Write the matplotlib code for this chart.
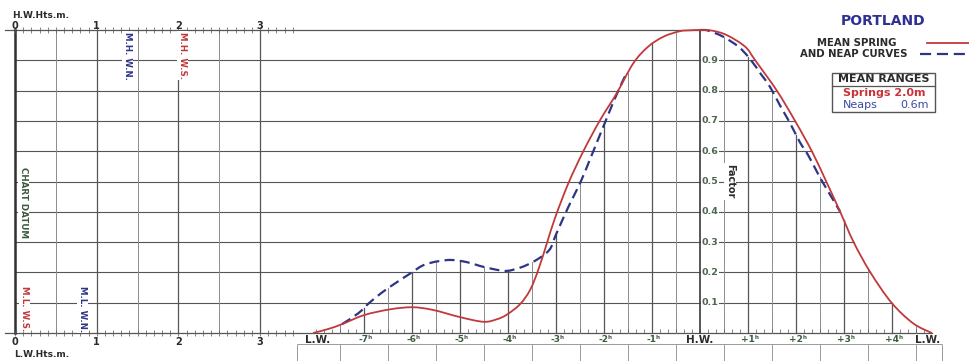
"""
Portland tidal curve (mean spring and neap), Admiralty style diagram.
"""

import numpy as np
import matplotlib
matplotlib.use('Agg')
import matplotlib.pyplot as plt
from matplotlib.patches import Rectangle, PathPatch
from matplotlib.path import Path

# ---------------------------------------------------------------------------
# Data: hours from H.W. vs height factor
# ---------------------------------------------------------------------------

spring_h = [-8.06, -7.75, -7.46, -7.0, -6.46, -5.99, -5.56, -4.99, -4.51, -4.24,
            -4.03, -3.75, -3.54, -3.37, -3.19, -3.02, -2.74, -2.43, -2.08, -1.74,
            -1.39, -1.08, -0.76, -0.42, -0.2, 0.0, 0.25, 0.56, 0.94, 1.15, 1.6,
            1.98, 2.33, 2.63, 2.92, 3.2, 3.55, 3.99, 4.44, 4.83]
spring_f = [0.0, 0.013, 0.029, 0.059, 0.078, 0.085, 0.076, 0.052, 0.037, 0.045,
            0.06, 0.095, 0.142, 0.208, 0.296, 0.38, 0.495, 0.6, 0.703, 0.79,
            0.89, 0.945, 0.978, 0.996, 0.999, 1.0, 0.998, 0.983, 0.945, 0.9, 0.8,
            0.7, 0.6, 0.5, 0.4, 0.3, 0.2, 0.1, 0.032, 0.0]

# neap curve where it separates from the spring curve
neap_rise_h = [-7.46, -7.12, -6.9, -6.63, -6.35, -6.06, -5.76, -5.45, -5.17, -4.86,
               -4.6, -4.31, -4.03, -3.74, -3.44, -3.14, -3.0, -2.74, -2.5, -2.3,
               -2.12, -1.94, -1.77, -1.6, -1.53]
neap_rise_f = [0.029, 0.065, 0.098, 0.133, 0.164, 0.194, 0.224, 0.237, 0.241, 0.234,
               0.222, 0.211, 0.205, 0.216, 0.238, 0.274, 0.325, 0.417, 0.494, 0.57,
               0.64, 0.71, 0.775, 0.835, 0.857]
neap_fall_h = [0.0, 0.17, 0.48, 0.8, 1.04, 1.28, 1.46, 1.67, 1.875, 2.08, 2.26,
               2.47, 2.64, 2.81, 2.92]
neap_fall_f = [1.0, 0.998, 0.978, 0.945, 0.905, 0.852, 0.812, 0.75, 0.693, 0.63,
               0.585, 0.522, 0.475, 0.43, 0.4]

time_ticks = [-7, -6, -5, -4, -3, -2, -1, 1, 2, 3, 4]
time_labels = ['-7ʰ', '-6ʰ', '-5ʰ', '-4ʰ', '-3ʰ', '-2ʰ', '-1ʰ',
               '+1ʰ', '+2ʰ', '+3ʰ', '+4ʰ']
lw_times = [-8.06, 4.83]
factor_ticks = [0.1, 0.2, 0.3, 0.4, 0.5, 0.6, 0.7, 0.8, 0.9]
height_ticks = [0, 1, 2, 3]

datum_names = ['M.H. W.S.', 'M.H. W.N.', 'M.L. W.N.', 'M.L. W.S.']
datum_heights = [2.05, 1.38, 0.83, 0.12]
datum_is_spring = [True, False, False, True]

port_name = 'PORTLAND'
spring_range = 2.0
neap_range = 0.6

# ---------------------------------------------------------------------------
# Layout (pixels of the 969x361 sheet)
# ---------------------------------------------------------------------------

W, H = 969, 361
HW_X, PX_H = 700, 48.0       # H.W. position, pixels per hour
M0_X, PX_M = 15, 81.7        # 0 m position, pixels per metre
BASE_Y, PX_F = 333, 303.0    # factor 0 position, pixels per unit factor

RED = '#c0393c'
BLUE = '#2d3585'
GRID = '#555555'
GRID_LIGHT = '#8c8c8c'
GREEN = '#3d5a40'
DARK = '#2b2b2b'


def px(x, y):
    """pixel position -> axes fraction"""
    return x / W, 1 - y / H


def smooth_path(xs, ys):
    """Bezier path through the read points (Catmull-Rom tangents)."""
    p = np.column_stack([xs, ys])
    n = len(p)
    verts = [p[0]]
    codes = [Path.MOVETO]
    for i in range(n - 1):
        p0 = p[max(i - 1, 0)]
        p3 = p[min(i + 2, n - 1)]
        c1 = p[i] + (p[i + 1] - p0) / 6
        c2 = p[i + 1] - (p3 - p[i]) / 6
        verts += [c1, c2, p[i + 1]]
        codes += [Path.CURVE4] * 3
    return Path(verts, codes)


fig = plt.figure(figsize=(W / 100, H / 100), dpi=100)
ax = fig.add_axes([0, 0, 1, 1])
ax.set_xlim(-HW_X / PX_H, (W - HW_X) / PX_H)
ax.set_ylim((BASE_Y - H) / PX_F, BASE_Y / PX_F)
ax.axis('off')

axm = ax.twiny()
axm.set_xlim(-M0_X / PX_M, (W - M0_X) / PX_M)
axm.axis('off')

h_of_m = lambda m: (M0_X + m * PX_M - HW_X) / PX_H

sh = np.array(spring_h)
sf = np.array(spring_f)
fall = sh >= 0


def curve_top(h):
    if neap_rise_h[0] <= h <= neap_rise_h[-1]:
        return np.interp(h, neap_rise_h, neap_rise_f)
    if neap_fall_h[0] <= h <= neap_fall_h[-1]:
        return np.interp(h, neap_fall_h, neap_fall_f)
    return np.interp(h, sh, sf)


# horizontal factor lines
for f in factor_ticks:
    ax.plot([h_of_m(0), 0], [f, f], color=GRID, lw=0.8, zorder=1)
    h_end = np.interp(f, sf[fall][::-1], sh[fall][::-1])
    ax.plot([0, h_end], [f, f], color=GRID, lw=0.8, zorder=1)
ax.plot([h_of_m(-0.12), 0], [1, 1], color=GRID, lw=0.9, zorder=1)
ax.plot([h_of_m(-0.12), lw_times[1]], [0, 0], color=GRID, lw=0.9, zorder=1)

# vertical half-hour lines up to the curve
for h in np.arange(-7.5, 4.6, 0.5):
    if h == 0:
        continue
    whole = float(h).is_integer()
    ax.plot([h, h], [0, curve_top(h)], color=GRID if whole else GRID_LIGHT,
            lw=0.9 if whole else 0.7, zorder=1)
ax.plot([0, 0], [0, 1], color='#3a3a3a', lw=1.2, zorder=2)

# small ticks on the time base
ax.vlines(np.arange(-8, 4.8, 1 / 6), 0, 0.012, color=GRID, lw=0.5, zorder=1)

# table strip below the time base
ax.hlines(-0.036, -8.4, 5.04, color='#9a9a9a', lw=0.7)
box_edges = [-8.4] + list(np.arange(-7.5, 0, 1.0)) + list(np.arange(0.5, 5, 1.0)) + [5.04]
ax.vlines(box_edges, -0.1, -0.036, color='#9a9a9a', lw=0.7)

# height grid (metres)
for m in np.arange(0, 3.01, 0.5):
    whole = float(m).is_integer()
    axm.plot([m, m], [0, 1], color=GRID if whole else GRID_LIGHT,
             lw=0.9 if whole else 0.7, zorder=1)
axm.plot([0, 0], [0, 1], color='#333333', lw=1.8, zorder=2)
ruler = np.arange(0, 3.45, 0.1)
axm.vlines(ruler, 1 - 0.009, 1 + 0.009, color=GRID, lw=0.5)
axm.vlines(ruler, -0.009, 0.009, color=GRID, lw=0.5)

# curves
for xs, ys in [(neap_rise_h, neap_rise_f), (neap_fall_h, neap_fall_f)]:
    ax.add_patch(PathPatch(smooth_path(xs, ys), fill=False, edgecolor=BLUE,
                           lw=1.6, linestyle=(0, (4.5, 2.4)), zorder=4))
ax.add_patch(PathPatch(smooth_path(spring_h, spring_f), fill=False,
                       edgecolor=RED, lw=1.3, zorder=5))

# time labels
for t, lab in zip(time_ticks, time_labels):
    ax.text(t + 0.04, -0.022, lab, ha='center', va='center', fontsize=6.5,
            fontweight='bold', color=GREEN)
ax.text(0, -0.022, 'H.W.', ha='center', va='center', fontsize=7.5,
        fontweight='bold', color=DARK)
ax.text(lw_times[0] + 0.1, -0.022, 'L.W.', ha='center', va='center', fontsize=7.5,
        fontweight='bold', color=DARK)
ax.text(lw_times[1] - 0.08, -0.022, 'L.W.', ha='center', va='center', fontsize=7.5,
        fontweight='bold', color=DARK)

# factor labels
wbox = dict(facecolor='white', edgecolor='none', pad=0.6)
for f in factor_ticks:
    ax.text(0.03, f, f'{f:.1f}', ha='left', va='center', fontsize=6.8,
            fontweight='bold', color='#4d6650', bbox=wbox, zorder=3)
ax.text(0.63, 0.5, 'Factor', ha='center', va='center', rotation=-90,
        fontsize=7, fontweight='bold', color=DARK, bbox=wbox, zorder=3)

# metre scales
for m in height_ticks:
    axm.text(m, 1.014, str(m), ha='center', va='center', fontsize=7,
             fontweight='bold', color=DARK)
    axm.text(m, -0.03, str(m), ha='center', va='center', fontsize=7,
             fontweight='bold', color=DARK)
axm.text(-0.03, 1.047, 'H.W.Hts.m.', ha='left', va='center', fontsize=6.5,
         fontweight='bold', color=DARK)
axm.text(-0.01, -0.07, 'L.W.Hts.m.', ha='left', va='center', fontsize=6.5,
         fontweight='bold', color=DARK)
axm.text(0.1, 0.43, 'CHART DATUM', ha='center', va='center', rotation=-90,
         fontsize=6.3, fontweight='bold', color=GREEN, bbox=wbox, zorder=3)

for name, hgt, spr in zip(datum_names, datum_heights, datum_is_spring):
    y = 0.915 if name.startswith('M.H') else 0.08
    axm.text(hgt, y, name, ha='center', va='center', rotation=-90,
             fontsize=6.2, fontweight='bold', color=RED if spr else BLUE,
             bbox=wbox, zorder=3)

# title and key
ax.text(*px(883, 21), port_name, transform=ax.transAxes, ha='center',
        va='center', fontsize=10, fontweight='bold', color='#2e3192')
ax.text(*px(857, 43), 'MEAN SPRING', transform=ax.transAxes, ha='center',
        va='center', fontsize=7.3, fontweight='bold', color=DARK)
ax.text(*px(854, 54), 'AND NEAP CURVES', transform=ax.transAxes, ha='center',
        va='center', fontsize=7.3, fontweight='bold', color=DARK)
ax.plot([px(927, 0)[0], 1], [px(0, 43)[1]] * 2, transform=ax.transAxes,
        color=RED, lw=1.3)
ax.plot([px(920, 0)[0], 1], [px(0, 54)[1]] * 2, transform=ax.transAxes,
        color=BLUE, lw=1.6, dashes=(5, 2.6))

x0, y0 = px(832, 112)
x1, y1 = px(935, 73)
ax.add_patch(Rectangle((x0, y0), x1 - x0, y1 - y0, transform=ax.transAxes,
                       facecolor='white', edgecolor='#555555', lw=1.0, zorder=6))
ax.plot([x0, x1], [px(0, 86)[1]] * 2, transform=ax.transAxes,
        color='#555555', lw=0.9, zorder=7)
ax.text(*px(883.5, 79.5), 'MEAN RANGES', transform=ax.transAxes, ha='center',
        va='center', fontsize=8, fontweight='bold', color=DARK, zorder=7)
ax.text(*px(843, 93), f'Springs {spring_range:.1f}m', transform=ax.transAxes,
        ha='left', va='center', fontsize=8, fontweight='bold', color='#c8343a',
        zorder=7)
ax.text(*px(843, 105), 'Neaps', transform=ax.transAxes, ha='left',
        va='center', fontsize=8, color='#3b4aa0', zorder=7)
ax.text(*px(929, 105), f'{neap_range:.1f}m', transform=ax.transAxes, ha='right',
        va='center', fontsize=8, color='#3b4aa0', zorder=7)

fig.savefig('out.png', dpi=100, facecolor='white')
